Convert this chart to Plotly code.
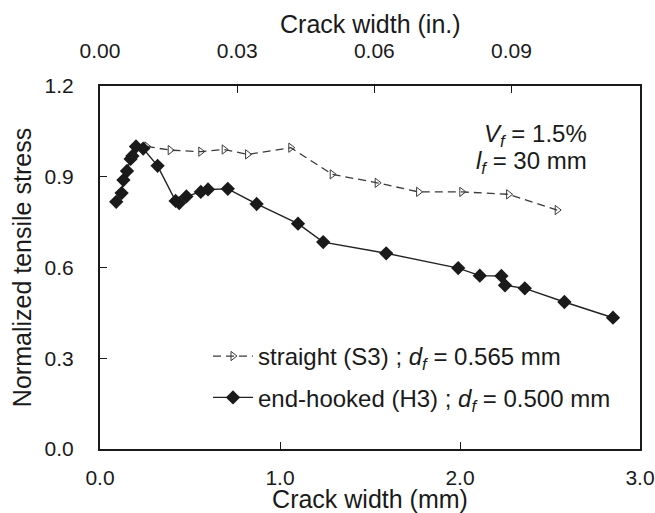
import plotly.graph_objects as go

# Crack width (mm) and normalized tensile stress for each fiber type
straight_w = [0.26, 0.39, 0.56, 0.69, 0.82, 1.06, 1.29, 1.54, 1.77, 2.01, 2.27, 2.54]
straight_s = [1.00, 0.988, 0.983, 0.99, 0.974, 0.996, 0.908, 0.88, 0.85, 0.85, 0.842, 0.79]

hooked_w = [0.09, 0.12, 0.13, 0.15, 0.17, 0.18, 0.20, 0.24, 0.32, 0.42, 0.44, 0.48,
            0.56, 0.60, 0.71, 0.87, 1.10, 1.24, 1.59, 1.99, 2.11, 2.23, 2.25, 2.36,
            2.58, 2.85]
hooked_s = [0.817, 0.846, 0.889, 0.919, 0.959, 0.969, 1.00, 0.993, 0.936, 0.82, 0.813, 0.835,
            0.85, 0.858, 0.86, 0.81, 0.745, 0.684, 0.647, 0.598, 0.573, 0.572, 0.541, 0.531,
            0.486, 0.434]

x_ticks_mm = [0.0, 1.0, 2.0, 3.0]
x_ticks_in = [0.00, 0.03, 0.06, 0.09]
y_ticks = [0.0, 0.3, 0.6, 0.9, 1.2]

MM_PER_IN = 25.4
FONT = "Liberation Sans, Arial, sans-serif"
INK = "#1a1a1a"

fig = go.Figure()

fig.add_trace(go.Scatter(
    x=straight_w, y=straight_s, mode="lines+markers",
    name="straight (S3) ; <i>d<sub>f</sub></i> = 0.565 mm",
    line=dict(color="#3a3a3a", width=1.3, dash="8px,5px"),
    marker=dict(symbol="triangle-right-open", size=8, color="#3a3a3a",
                line=dict(width=1, color="#3a3a3a")),
    legend="legend",
))

fig.add_trace(go.Scatter(
    x=hooked_w, y=hooked_s, mode="lines+markers",
    name="end-hooked (H3) ; <i>d<sub>f</sub></i> = 0.500 mm",
    line=dict(color="#222222", width=1.4),
    marker=dict(symbol="diamond", size=11, color="#1a1a1a"),
    legend="legend2",
))

# invisible trace carrying the inch scale on the top axis
fig.add_trace(go.Scatter(
    x=[0, 3.0 / MM_PER_IN], y=[0, 0], xaxis="x2", mode="markers",
    marker=dict(opacity=0), showlegend=False, hoverinfo="skip",
))

axis_common = dict(
    showline=True, linewidth=2, linecolor=INK,
    ticks="inside", ticklen=7, tickwidth=1.2, tickcolor=INK,
    showgrid=False, zeroline=False, automargin=True,
    tickfont=dict(family=FONT, size=21, color=INK),
    title_font=dict(family=FONT, size=25, color=INK),
)

fig.update_layout(
    width=655, height=513,
    margin=dict(l=100, r=15, t=86, b=64, autoexpand=False),
    paper_bgcolor="white", plot_bgcolor="white",
    font=dict(family=FONT, color=INK),
    xaxis=dict(
        range=[0, 3.0], tickvals=x_ticks_mm, tickformat=".1f",
        ticklabelstandoff=9,
        title=dict(text="Crack width (mm)", standoff=4),
        **axis_common,
    ),
    xaxis2=dict(
        range=[0, 3.0 / MM_PER_IN], overlaying="x", side="top",
        tickvals=x_ticks_in, tickformat=".2f",
        ticklabelstandoff=18,
        **axis_common,
    ),
    yaxis=dict(
        range=[0, 1.2], tickvals=y_ticks, tickformat=".1f", mirror=True,
        ticklabelstandoff=20,
        title=dict(text="Normalized tensile stress", standoff=6),
        **axis_common,
    ),
    legend=dict(
        x=0.2, y=0.255, xanchor="left", yanchor="middle",
        bgcolor="rgba(0,0,0,0)", itemwidth=40,
        font=dict(family=FONT, size=24, color=INK),
    ),
    legend2=dict(
        x=0.2, y=0.141, xanchor="left", yanchor="middle",
        bgcolor="rgba(0,0,0,0)", itemwidth=40,
        font=dict(family=FONT, size=24, color=INK),
    ),
    annotations=[
        # title of the inch scale on the top axis
        dict(text="Crack width (in.)", x=0.5, y=1.172,
             xref="paper", yref="paper", xanchor="center", yanchor="middle",
             showarrow=False, font=dict(family=FONT, size=25, color=INK)),
        dict(text="<i>V<sub>f</sub></i> = 1.5%", x=0.905, y=0.865,
             xref="paper", yref="paper", xanchor="right", yanchor="middle",
             showarrow=False, font=dict(family=FONT, size=24, color=INK)),
        dict(text="<i>l<sub>f</sub></i> = 30 mm", x=0.905, y=0.79,
             xref="paper", yref="paper", xanchor="right", yanchor="middle",
             showarrow=False, font=dict(family=FONT, size=24, color=INK)),
    ],
)

fig.write_html("out.html")
